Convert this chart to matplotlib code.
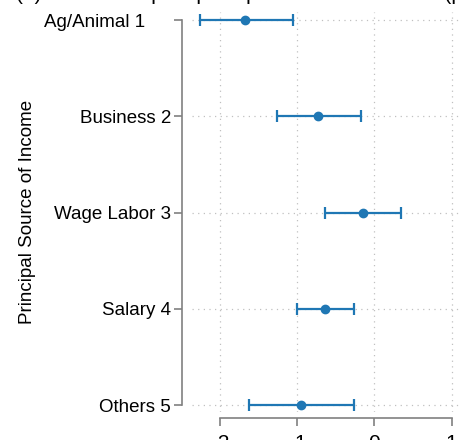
import numpy as np
import matplotlib.pyplot as plt
from matplotlib.transforms import ScaledTranslation

plt.rcParams['font.family'] = ['Liberation Sans', 'DejaVu Sans']

# coefficient estimates with 95% confidence bounds
categories = ["Ag/Animal 1", "Business 2", "Wage Labor 3", "Salary 4", "Others 5"]
coef = [-1.68, -0.73, -0.15, -0.64, -0.95]
ci_low = [-2.27, -1.27, -0.64, -1.01, -1.63]
ci_high = [-1.06, -0.18, 0.34, -0.26, -0.27]
xticks = [-2, -1, 0, 1]

blue = '#1f77b4'
grey = '#808080'

fig = plt.figure(figsize=(4.6, 4.4), dpi=100)
ax = fig.add_axes([0.417, 0.0636, 0.583, 0.909])

ypos = np.arange(1, len(categories) + 1)
coef = np.array(coef)
err = [coef - np.array(ci_low), np.array(ci_high) - coef]
ax.errorbar(coef, ypos, xerr=err, fmt='o', color=blue, ms=6,
            elinewidth=1.6, capsize=4, capthick=1.6, zorder=3)

ax.set_xlim(-2.37, 1.11)
ax.set_ylim(5.07, 0.917)
ax.set_yticks(ypos)
ax.set_yticklabels(categories)
ax.set_xticks(xticks)
ax.set_xticklabels([str(t) for t in xticks])
ax.set_ylabel("Principal Source of Income", fontsize=13.5, labelpad=6)

ax.grid(True, linestyle=(0, (1, 3.5)), color='#c0c0c0', linewidth=0.9)
ax.set_axisbelow(True)

for s in ['top', 'right']:
    ax.spines[s].set_visible(False)
ax.spines['left'].set_position(('outward', 7))
ax.spines['left'].set_bounds(1, 5)
ax.spines['bottom'].set_position(('outward', 4))
ax.spines['bottom'].set_bounds(-2, 1)
for s in ['left', 'bottom']:
    ax.spines[s].set_color(grey)
    ax.spines[s].set_linewidth(1.2)
ax.tick_params(axis='both', colors=grey, length=5.5, width=1.2, labelcolor='black')
ax.tick_params(axis='y', labelsize=13.5, pad=2.5)
ax.tick_params(axis='x', labelsize=15, pad=6)

# first category label sits further left
first = ax.get_yticklabels()[0]
first.set_transform(first.get_transform() + ScaledTranslation(-26 / 100, 0, fig.dpi_scale_trans))

fig.text(0.035, 0.999, "(a) Coefficient plot: principal source of income (pooled)",
         fontsize=15, va='baseline', ha='left')

fig.savefig('out.png', dpi=100)
